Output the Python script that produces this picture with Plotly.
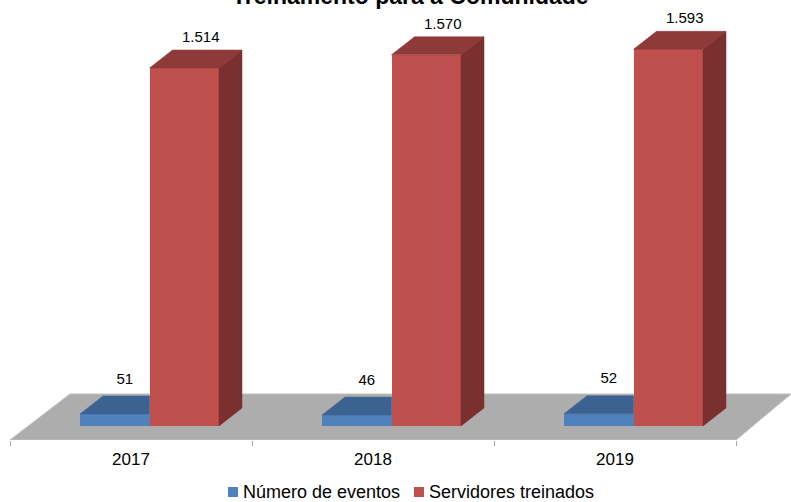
import plotly.graph_objects as go

years = ["2017", "2018", "2019"]
eventos = [51, 46, 52]
servidores = [1514, 1570, 1593]
positions = [0, 1, 2]
title_text = "Treinamento para a Comunidade"

W, H = 791, 502
FLOOR_PX = 440
PX_X = 242.0       # pixels per category
PX_Y = 358 / 1514  # pixels per value
X0 = 10
Y0 = 426           # pixel of value zero

BLUE, RED = "#4F81BD", "#C0504D"

dx = 23 / PX_X
dy = 18 / PX_Y
bw = 69.5 / PX_X
left = 70 / PX_X

xr = [-X0 / PX_X, (W - X0) / PX_X]
yr = [-(FLOOR_PX - Y0) / PX_Y, Y0 / PX_Y]


def poly(xs, ys, color):
    return go.Scatter(x=xs, y=ys, mode="lines", fill="toself", fillcolor=color,
                      line=dict(color=color, width=0.5), showlegend=False, hoverinfo="skip")


fig = go.Figure()

bx = [p + left for p in positions]
rx = [p + left + bw for p in positions]

fig.add_trace(go.Bar(x=positions, y=eventos, name="Número de eventos", width=bw, offset=left,
                     marker=dict(color=BLUE, line=dict(width=0)), showlegend=False))
fig.add_trace(go.Bar(x=positions, y=servidores, name="Servidores treinados", width=bw, offset=left + bw,
                     marker=dict(color=RED, line=dict(width=0)), showlegend=False))

for x, v in zip(bx, eventos):
    fig.add_trace(poly([x, x + dx, x + bw, x + bw, x], [v, v + dy, v + dy, v, v], "#3C6292"))
for x, v in zip(rx, servidores):
    fig.add_trace(poly([x, x + dx, x + bw + dx, x + bw, x], [v, v + dy, v + dy, v, v], "#8E3A38"))
    fig.add_trace(poly([x + bw, x + bw + dx, x + bw + dx, x + bw, x + bw], [v, v + dy, dy, 0, v], "#7B2F2E"))

fmt = lambda v: f"{v:,}".replace(",", ".")
fig.add_trace(go.Scatter(x=[x + bw / 2 + 10 / PX_X for x in bx],
                         y=[v + 34 / PX_Y for v in eventos],
                         text=[fmt(v) for v in eventos], mode="text",
                         textfont=dict(size=15, color="#000000"), showlegend=False, hoverinfo="skip"))
fig.add_trace(go.Scatter(x=[x + bw / 2 + 16.5 / PX_X for x in rx],
                         y=[v + 30 / PX_Y for v in servidores],
                         text=[fmt(v) for v in servidores], mode="text",
                         textfont=dict(size=15, color="#000000"), showlegend=False, hoverinfo="skip"))

# floor of the 3D plot
fy = yr[0]
by = (Y0 - 394) / PX_Y
fx = 60 / PX_X
fig.add_shape(type="path", xref="x", yref="y", layer="below",
              path=f"M 0 {fy} L 3 {fy} L {3 + 55 / PX_X} {by} L {fx} {by} Z",
              fillcolor="#ADADAD", line=dict(color="#BEBEBE", width=1))

# legend entries: the small gap between swatch and text of the reference
for sx, text_x, label, color in [(228, 242, "Número de eventos", BLUE),
                                 (414, 428, "Servidores treinados", RED)]:
    fig.add_shape(type="rect", xref="paper", yref="paper", x0=sx / W, x1=(sx + 10) / W,
                  y0=-(497 - FLOOR_PX) / FLOOR_PX, y1=-(487 - FLOOR_PX) / FLOOR_PX,
                  fillcolor=color, line=dict(width=0))
    fig.add_annotation(xref="paper", yref="paper", x=text_x / W, y=-(492 - FLOOR_PX) / FLOOR_PX,
                       xanchor="left", yanchor="middle", text=label, showarrow=False,
                       xshift=-1, font=dict(size=18, color="#000000"))

# title, cut by the top edge as in the reference
fig.add_annotation(xref="paper", yref="paper", x=410 / W, y=(FLOOR_PX + 4) / FLOOR_PX,
                   xanchor="center", yanchor="middle", text=f"<b>{title_text}</b>", showarrow=False,
                   font=dict(size=23, color="#000000"))

fig.update_layout(
    width=W, height=H, autosize=False, showlegend=False,
    margin=dict(l=0, r=0, t=0, b=H - FLOOR_PX),
    paper_bgcolor="#FFFFFF", plot_bgcolor="#FFFFFF",
    barmode="overlay", bargap=0,
    font=dict(family="Liberation Sans, Arial, sans-serif", color="#000000"),
    xaxis=dict(range=xr, tickmode="array", tickvals=[0.5, 1.5, 2.5], ticktext=years,
               ticks="", showgrid=False, zeroline=False, showline=False,
               ticklabelstandoff=7,
               tickfont=dict(size=17, color="#000000"),
               minor=dict(tickmode="array", tickvals=[0, 1, 2, 3], ticks="outside", ticklen=5,
                          tickcolor="#A6A6A6", tickwidth=1, showgrid=False)),
    yaxis=dict(range=yr, visible=False, showgrid=False, zeroline=False),
)

fig.write_html("out.html", config={"displayModeBar": False},
               post_script="document.body.style.margin='0';document.body.style.overflow='hidden';")
